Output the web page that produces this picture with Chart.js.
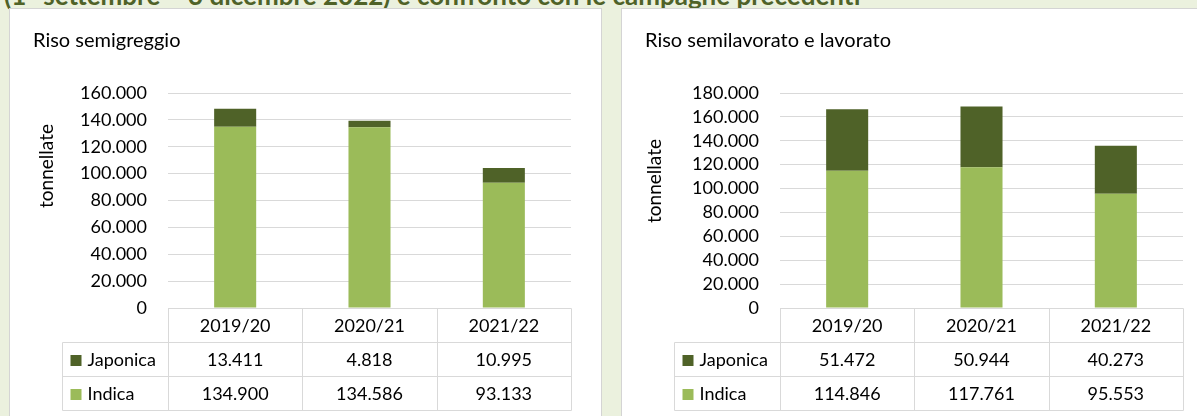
<!DOCTYPE html>
<html lang="it">
<head>
<meta charset="utf-8">
<title>Riso semigreggio e lavorato</title>
<script src="https://cdn.jsdelivr.net/npm/chart.js@4.4.1/dist/chart.umd.min.js"></script>
<style>
  html, body { margin: 0; padding: 0; }
  body {
    width: 1197px; height: 416px; overflow: hidden; position: relative;
    background: #ebf1de; font-family: Lato, 'Open Sans', sans-serif;
  }
  .heading {
    position: absolute; left: 4px; top: -18px; white-space: nowrap;
    font-weight: bold; font-size: 26px; line-height: 26px; color: #4f6228;
  }
  .panel {
    position: absolute; top: 8px; height: 420px; box-sizing: border-box;
    background: #fff; border: 1px solid #d4d4d4;
  }
  #panelLeft { left: 9px; width: 593px; }
  #panelRight { left: 621px; width: 600px; }
  canvas { position: absolute; top: 9px; }
  #chartLeft { left: 10px; }
  #chartRight { left: 622px; }
</style>
</head>
<body>
<div class="heading">(1° settembre – 3 dicembre 2022) e confronto con le campagne precedenti</div>
<div class="panel" id="panelLeft"></div>
<div class="panel" id="panelRight"></div>
<canvas id="chartLeft" width="591" height="407"></canvas>
<canvas id="chartRight" width="575" height="407"></canvas>

<script>
// ---- data (tonnellate) ----
const campaigns = ['2019/20', '2020/21', '2021/22'];
const semigreggioJaponica = [13411, 4818, 10995];
const semigreggioIndica = [134900, 134586, 93133];
const lavoratoJaponica = [51472, 50944, 40273];
const lavoratoIndica = [114846, 117761, 95553];
const semigreggioMax = 160000;
const lavoratoMax = 180000;
const tickStep = 20000;
const axisLabel = 'tonnellate';

const COLOR_JAPONICA = '#4f6228';
const COLOR_INDICA = '#9bbb59';
const GRID_COLOR = '#d9d9d9';
const TEXT_COLOR = '#000';

// 160000 -> "160.000"
function formatIt(v) {
    return String(Math.round(v)).replace(/\B(?=(\d{3})+(?!\d))/g, '.');
}

// draws the excel-like data table under the plot and the rotated axis title
const dataTable = {
    id: 'dataTable',
    afterDraw(chart, args, opts) {
        const ctx = chart.ctx;
        const area = chart.chartArea;
        const x = chart.scales.x;
        const n = chart.data.labels.length;
        const rows = chart.data.datasets.slice().reverse();
        const rowH = opts.rowHeight;
        const top = Math.round(area.bottom) + 0.5;
        const bottom = top + rowH * (rows.length + 1);
        const legendLeft = Math.round(area.left - opts.legendWidth) + 0.5;
        const right = Math.round(x.getPixelForValue(n - 0.5)) + 0.5;

        ctx.save();
        ctx.strokeStyle = opts.borderColor;
        ctx.lineWidth = 1;
        ctx.beginPath();
        ctx.moveTo(Math.round(area.left) + 0.5, top);
        ctx.lineTo(right, top);
        for (let r = 1; r <= rows.length + 1; r++) {
            ctx.moveTo(legendLeft, top + r * rowH);
            ctx.lineTo(right, top + r * rowH);
        }
        ctx.moveTo(legendLeft, top + rowH);
        ctx.lineTo(legendLeft, bottom);
        for (let i = 0; i <= n; i++) {
            const bx = Math.round(x.getPixelForValue(i - 0.5)) + 0.5;
            ctx.moveTo(bx, top);
            ctx.lineTo(bx, bottom);
        }
        ctx.stroke();

        ctx.fillStyle = TEXT_COLOR;
        ctx.font = opts.font;
        ctx.textBaseline = 'middle';
        ctx.textAlign = 'center';
        chart.data.labels.forEach((label, i) => {
            ctx.fillText(label, x.getPixelForValue(i), top + rowH / 2 + 1);
        });

        rows.forEach((ds, r) => {
            const mid = top + rowH * (r + 1.5) + 1;
            ctx.fillStyle = ds.backgroundColor;
            ctx.fillRect(legendLeft + 8, Math.round(mid - 6), 11, 11);
            ctx.fillStyle = TEXT_COLOR;
            ctx.textAlign = 'left';
            ctx.fillText(ds.label, legendLeft + 25, mid);
            ctx.textAlign = 'center';
            ds.data.forEach((v, i) => {
                ctx.fillText(formatIt(v), x.getPixelForValue(i), mid);
            });
        });

        // rotated y axis title
        ctx.translate(opts.axisTitleX, opts.axisTitleY);
        ctx.rotate(-Math.PI / 2);
        ctx.font = opts.axisFont;
        ctx.fillText(opts.axisTitle, 0, 0);
        ctx.restore();
    }
};

function makeChart(canvasId, title, indica, japonica, yMax, paddingRight, axisTitleX, axisTitleY) {
    const ctx = document.getElementById(canvasId);
    return new Chart(ctx, {
        type: 'bar',
        data: {
            labels: campaigns,
            datasets: [
                { label: 'Indica', data: indica, backgroundColor: COLOR_INDICA },
                { label: 'Japonica', data: japonica, backgroundColor: COLOR_JAPONICA }
            ]
        },
        options: {
            responsive: false,
            animation: false,
            layout: {
                padding: { left: 23, right: paddingRight, top: 0, bottom: 108 }
            },
            datasets: {
                bar: { barPercentage: 0.313, categoryPercentage: 1, borderWidth: 0 }
            },
            plugins: {
                legend: { display: false },
                tooltip: { enabled: false },
                title: {
                    display: true,
                    text: title,
                    align: 'start',
                    color: TEXT_COLOR,
                    font: { family: 'Lato', size: 20, weight: 'normal' },
                    padding: { top: 20, bottom: 40 }
                },
                dataTable: {
                    rowHeight: 34,
                    legendWidth: 106,
                    borderColor: GRID_COLOR,
                    font: '18px Lato',
                    axisFont: '19px Lato',
                    axisTitle: axisLabel,
                    axisTitleX: axisTitleX,
                    axisTitleY: axisTitleY
                }
            },
            scales: {
                x: { display: false, stacked: true },
                y: {
                    stacked: true,
                    min: 0,
                    max: yMax,
                    afterFit(scale) { scale.width = 135; },
                    border: { display: false },
                    grid: { color: GRID_COLOR, drawTicks: false },
                    ticks: {
                        stepSize: tickStep,
                        autoSkip: false,
                        padding: 21,
                        color: TEXT_COLOR,
                        font: { family: 'Lato', size: 18 },
                        callback: value => formatIt(value)
                    }
                }
            }
        },
        plugins: [dataTable]
    });
}

makeChart('chartLeft', 'Riso semigreggio', semigreggioIndica, semigreggioJaponica, semigreggioMax, 30, 37, 157);
makeChart('chartRight', 'Riso semilavorato e lavorato', lavoratoIndica, lavoratoJaponica, lavoratoMax, 14, 33, 172);
</script>
</body>
</html>
